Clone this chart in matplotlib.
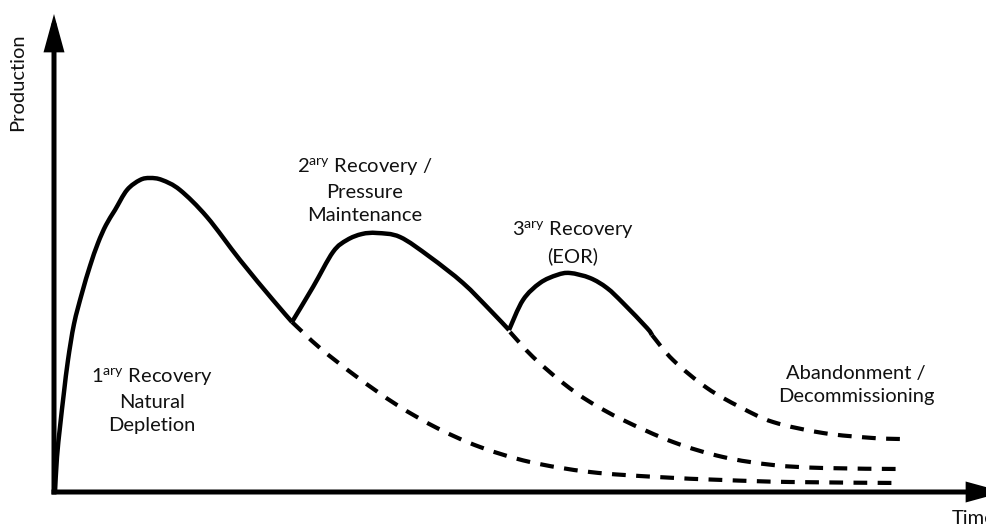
import matplotlib
matplotlib.use("Agg")
import matplotlib.pyplot as plt
from matplotlib.path import Path
from matplotlib.patches import PathPatch

# ---- data (time, production) in schematic units ----
solid_t = [1, 3, 6, 10, 14, 20, 28, 36, 44, 52, 61, 73, 86, 96, 108, 126, 153, 186, 219, 238,
           259, 279, 293, 308, 323, 346, 376, 409, 436, 455,
           469, 486, 503, 516, 536, 553, 569, 593, 598]
solid_p = [0, 35, 65, 100, 132, 168, 199, 226, 249, 267, 282, 302, 312, 314, 312, 302, 275, 232, 192, 170,
           205, 240, 252, 258, 259, 255, 235, 209, 182, 162,
           192, 209, 217, 219, 214, 204, 189, 164, 157]
valley_idx = [19, 29]  # sharp corners where new recovery phase starts

primary_t = [238, 266, 303, 343, 383, 426, 476, 536, 603, 669, 736, 846]
primary_p = [170, 144, 115, 87, 64, 45, 30, 20, 15, 12, 10, 9]

secondary_t = [456, 479, 509, 536, 569, 619, 669, 719, 769, 846]
secondary_p = [160, 135, 109, 90, 72, 50, 35, 27, 24, 23]

tertiary_t = [598, 619, 653, 686, 719, 769, 819, 846]
tertiary_p = [157, 132, 104, 85, 70, 59, 54, 53]

labels = {
    "primary": "1$^{\\mathrm{ary}}$ Recovery\nNatural\nDepletion",
    "secondary": "2$^{\\mathrm{ary}}$ Recovery /\nPressure\nMaintenance",
    "tertiary": "3$^{\\mathrm{ary}}$ Recovery\n(EOR)",
    "abandon": "Abandonment /\nDecommissioning",
}
x_label = "Time"
y_label = "Production"

# ---- style ----
plt.rcParams["font.family"] = ["Lato", "DejaVu Sans"]
plt.rcParams["mathtext.fontset"] = "custom"
plt.rcParams["mathtext.rm"] = "Lato"
plt.rcParams["mathtext.it"] = "Lato:italic"
plt.rcParams["mathtext.bf"] = "Lato:bold"

fig = plt.figure(figsize=(9.87, 5.26), dpi=100)
ax = fig.add_axes([0, 0, 1, 1])
ax.set_xlim(-54, 933)
ax.set_ylim(-34, 492)
ax.axis("off")

fs = 14.5


def smooth_path(ts, ps):
    """Catmull-Rom curve through the given points, as a cubic Bezier path."""
    pts = list(zip(ts, ps))
    n = len(pts)
    verts = [pts[0]]
    codes = [Path.MOVETO]
    for i in range(n - 1):
        p0 = pts[i - 1] if i > 0 else pts[i]
        p1 = pts[i]
        p2 = pts[i + 1]
        p3 = pts[i + 2] if i + 2 < n else pts[i + 1]
        c1 = (p1[0] + (p2[0] - p0[0]) / 6.0, p1[1] + (p2[1] - p0[1]) / 6.0)
        c2 = (p2[0] - (p3[0] - p1[0]) / 6.0, p2[1] - (p3[1] - p1[1]) / 6.0)
        verts += [c1, c2, p2]
        codes += [Path.CURVE4] * 3
    return Path(verts, codes)


def draw_curve(ts, ps, **kw):
    ax.add_patch(PathPatch(smooth_path(ts, ps), fill=False, edgecolor="black", **kw))


# axes arrows
arrow_kw = dict(arrowstyle="-|>,head_length=19,head_width=5.2", lw=3.6,
                color="black", shrinkA=0, shrinkB=0, mutation_scale=1,
                joinstyle="miter", capstyle="butt")
ax.annotate("", xy=(0, 478), xytext=(0, -2.5), arrowprops=arrow_kw,
            annotation_clip=False)
ax.annotate("", xy=(950, 0), xytext=(-2.5, 0), arrowprops=arrow_kw,
            annotation_clip=False)

# solid production curve, split at the valleys (sharp corners)
bounds = [0] + valley_idx + [len(solid_t) - 1]
for a, b in zip(bounds[:-1], bounds[1:]):
    draw_curve(solid_t[a:b + 1], solid_p[a:b + 1], lw=3.2, joinstyle="round",
               capstyle="butt")

# dashed decline curves
dash = (0, (3.3, 2.5))
for t, p in [(primary_t, primary_p), (secondary_t, secondary_p), (tertiary_t, tertiary_p)]:
    draw_curve(t, p, lw=3.0, linestyle=dash, capstyle="butt")

# labels
txt = dict(fontsize=fs, color="#111111", ha="center", multialignment="center",
           linespacing=1.45)
ax.text(98, 92, labels["primary"], va="center", **txt)
ax.text(311, 302, labels["secondary"], va="center", **txt)
ax.text(519, 250, labels["tertiary"], va="center", **txt)
ax.text(802, 107, labels["abandon"], va="center", **txt)

ax.text(-36, 410, y_label, rotation=90, fontsize=fs, color="#111111",
        ha="center", va="center")
ax.text(898, -32, x_label, fontsize=fs, color="#111111", ha="left", va="baseline")

fig.savefig("out.png", dpi=100)
